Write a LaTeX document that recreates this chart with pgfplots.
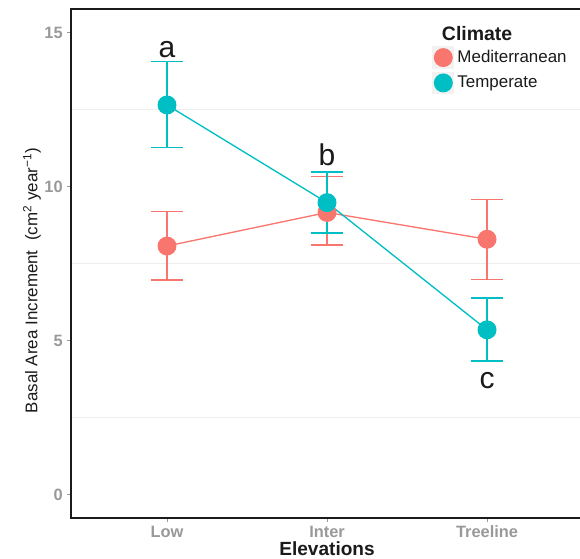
\documentclass[border=0pt]{standalone}
\usepackage{fontspec}
\setmainfont{Liberation Sans}
\usepackage{pgfplots}
\pgfplotsset{compat=1.18}
\usepackage{pgfplotstable}
\definecolor{cMed}{HTML}{F8766D}
\definecolor{cTem}{HTML}{00BFC4}
\definecolor{tickgray}{HTML}{999999}
\definecolor{gridgray}{HTML}{EEEEEE}
\definecolor{keygray}{HTML}{F2F2F2}
\definecolor{txt}{HTML}{1A1A1A}

\pgfplotstableread{
x y ep em
1 8.08 1.13 1.10
2 9.17 1.17 1.06
3 8.30 1.30 1.30
}\medtab
\pgfplotstableread{
x y ep em
1 12.66 1.41 1.38
2 9.49 0.99 0.99
3 5.36 1.03 1.01
}\temtab

\begin{document}
\begin{tikzpicture}
\useasboundingbox (-53.25pt,-30pt) rectangle (381.75pt,388.5pt);
\begin{axis}[
  name=ax, at={(0,0)}, anchor=south west,
  scale only axis, width=381.75pt, height=381.75pt,
  xmin=0.4, xmax=3.581, ymin=-0.75, ymax=15.776,
  axis line style={draw=none},
  xtick={1,2,3}, xticklabels={Low,Inter,Treeline},
  ytick={0,5,10,15}, minor ytick={2.5,7.5,12.5},
  xtick pos=left, ytick pos=left,
  tick align=outside, major tick length=3pt, minor tick length=0pt,
  tick style={color=tickgray, line width=0.75pt},
  yminorgrids=true, minor grid style={color=gridgray, line width=0.75pt},
  /pgf/number format/assume math mode=true,
  ticklabel style={font=\bfseries\fontsize{12.3}{14}\selectfont, color=tickgray},
  xticklabel style={anchor=base, inner sep=0pt, yshift=-11.8pt},
  yticklabel style={anchor=east, inner sep=0pt, xshift=-3pt},
  xlabel={Elevations},
  every axis x label/.style={at={(axis cs:2,-0.75)}, anchor=base, yshift=-27.8pt, font=\bfseries\fontsize{14.3}{17}\selectfont, color=txt},
  ylabel={Basal Area Increment\ \ (cm\textsuperscript{2} year\textsuperscript{−1})},
  every axis y label/.style={at={(axis description cs:-0.0766,0.4666)}, rotate=90, anchor=center, font=\fontsize{12.7}{15}\selectfont, color=txt},
  legend style={at={(axis description cs:0.709,0.927)}, anchor=north west, draw=none, fill=none, inner sep=0pt,
    row sep=2.25pt, column sep=2.25pt, font=\fontsize{12.7}{15}\selectfont, text=txt, nodes={inner sep=0pt}},
  legend cell align=left,
  legend image code/.code={
    \fill[keygray] (0pt,-7.875pt) rectangle (15.75pt,7.875pt);
    \fill (7.875pt,0pt) circle[radius=6.6pt];
  },
]
\addplot[color=cMed, line width=1pt, mark=*, mark size=6.6pt, mark options={draw=none, fill=cMed},
  error bars/.cd, y dir=both, y explicit,
  error mark options={rotate=90, mark size=12pt, line width=1pt, draw=cMed, color=cMed},
  error bar style={line width=1pt, draw=cMed, color=cMed}]
  table[x=x, y=y, y error plus=ep, y error minus=em]{\medtab};
\addlegendentry{Mediterranean}
\addplot[color=cTem, line width=1pt, mark=*, mark size=6.6pt, mark options={draw=none, fill=cTem},
  error bars/.cd, y dir=both, y explicit,
  error mark options={rotate=90, mark size=12pt, line width=1pt, draw=cTem, color=cTem},
  error bar style={line width=1pt, draw=cTem, color=cTem}]
  table[x=x, y=y, y error plus=ep, y error minus=em]{\temtab};
\addlegendentry{Temperate}
\node[anchor=base, font=\fontsize{22.5}{26}\selectfont, text=txt] at (axis cs:1,14.21) {a};
\node[anchor=base, font=\fontsize{22.5}{26}\selectfont, text=txt] at (axis cs:2,10.71) {b};
\node[anchor=base, font=\fontsize{22.5}{26}\selectfont, text=txt] at (axis cs:3,3.46) {c};
\node[anchor=base west, inner sep=0pt, font=\bfseries\fontsize{14.6}{17}\selectfont, text=txt] at (axis description cs:0.7283,0.9377) {Climate};
\end{axis}
\draw[line width=1pt, color=txt] (ax.south east) -- (ax.south west) -- (ax.north west) -- (ax.north east);
\end{tikzpicture}
\end{document}
